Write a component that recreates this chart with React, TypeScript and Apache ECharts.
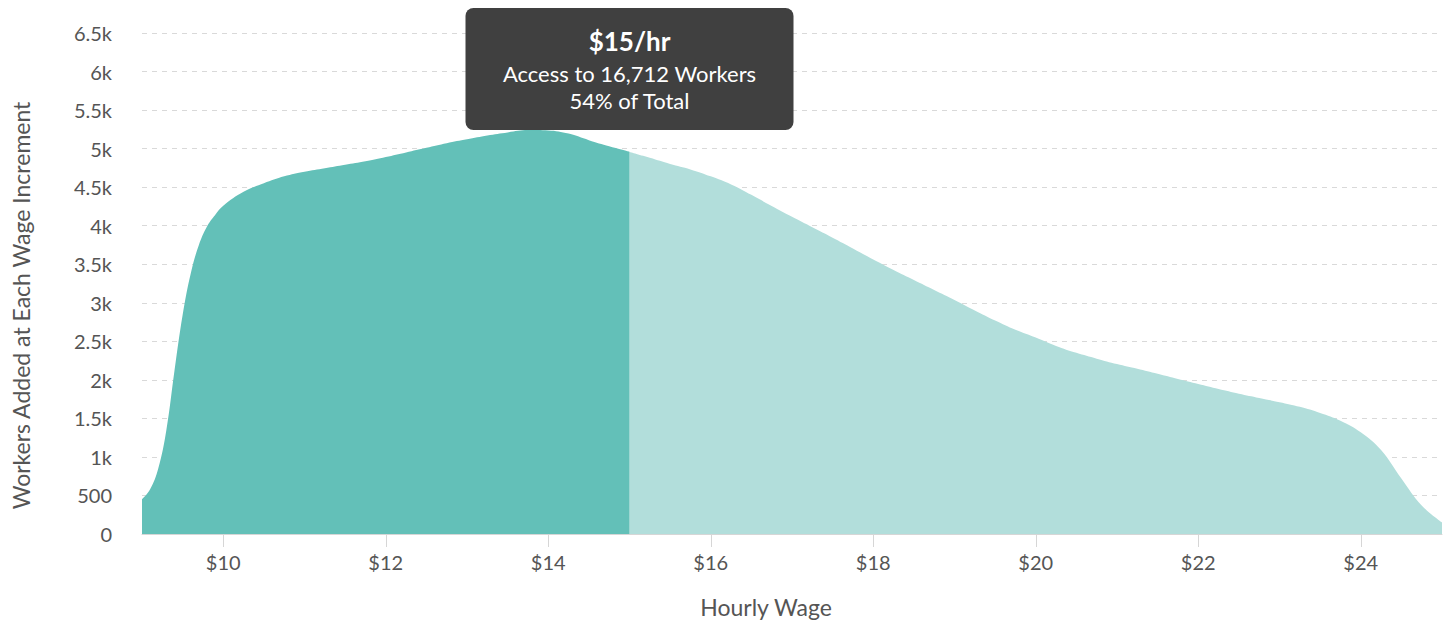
import React, { useEffect, useRef } from "react";
import * as echarts from "echarts";

// Hourly wage (USD) and workers added at each wage increment
const wagesLow = [9.0, 9.1, 9.2, 9.3, 9.4, 9.5, 9.6, 9.7, 9.8, 9.9, 10.0, 10.25, 10.5, 10.75, 11.0, 11.25, 11.5, 11.75, 12.0, 12.25, 12.5, 12.75, 13.0, 13.25, 13.5, 13.75, 14.0, 14.25, 14.5, 14.75, 15.0];
const workersLow = [450, 580, 850, 1350, 2120, 2840, 3380, 3750, 3990, 4140, 4260, 4440, 4550, 4640, 4700, 4745, 4790, 4835, 4890, 4950, 5010, 5070, 5120, 5170, 5210, 5240, 5236, 5195, 5110, 5030, 4960];

const wagesHigh = [15.0, 15.25, 15.5, 15.75, 16.0, 16.25, 16.5, 16.75, 17.0, 17.25, 17.5, 17.75, 18.0, 18.25, 18.5, 18.75, 19.0, 19.25, 19.5, 19.75, 20.0, 20.25, 20.5, 20.75, 21.0, 21.25, 21.5, 21.75, 22.0, 22.25, 22.5, 22.75, 23.0, 23.25, 23.5, 23.75, 24.0, 24.25, 24.5, 24.75, 25.0];
const workersHigh = [4955, 4880, 4800, 4730, 4640, 4535, 4400, 4255, 4115, 3980, 3845, 3705, 3561, 3425, 3295, 3165, 3035, 2900, 2770, 2650, 2550, 2440, 2350, 2275, 2205, 2143, 2078, 2010, 1945, 1880, 1820, 1765, 1710, 1650, 1570, 1470, 1320, 1090, 720, 370, 150];

const xTickValues = [10, 12, 14, 16, 18, 20, 22, 24];
const xMin = 9;
const xMax = 25;
const yMax = 6500;
const yInterval = 500;

const highlightWage = 15;
const highlightWorkers = 16712;
const highlightShare = 54;

const FONT = "Lato, 'Open Sans', sans-serif";
const TEXT = "#555555";

export default function App() {
  const ref = useRef<HTMLDivElement>(null);

  useEffect(() => {
    if (!ref.current) return;
    const chart = echarts.init(ref.current, null, { renderer: "svg" });
    const option: any = {
      animation: false,
      textStyle: { fontFamily: FONT },
      grid: { left: 142, right: 7, top: 33, bottom: 88 },
      xAxis: {
        type: "value",
        min: xMin,
        max: xMax,
        name: "Hourly Wage",
        nameLocation: "middle",
        nameGap: 61,
        nameTextStyle: { fontSize: 23, color: TEXT, fontFamily: FONT, padding: [0, 52, 0, 0] },
        axisLine: { show: true, lineStyle: { color: "#d6d6d6", width: 1 } },
        axisTick: { show: true, length: 13, customValues: xTickValues, lineStyle: { color: "#d6d6d6" } },
        axisLabel: {
          customValues: xTickValues,
          margin: 18,
          fontSize: 20,
          color: TEXT,
          fontFamily: FONT,
          formatter: (v: number) => "$" + v,
        },
        splitLine: { show: false },
      },
      yAxis: {
        type: "value",
        min: 0,
        max: yMax,
        interval: yInterval,
        name: "Workers Added at Each Wage Increment",
        nameLocation: "middle",
        nameGap: 110,
        nameTextStyle: { fontSize: 23, color: TEXT, fontFamily: FONT, padding: [0, 44, 0, 0] },
        axisLine: { show: false },
        axisTick: { show: false },
        axisLabel: {
          margin: 30,
          fontSize: 20,
          color: TEXT,
          fontFamily: FONT,
          formatter: (v: number) => (v >= 1000 ? v / 1000 + "k" : String(v)),
        },
        splitLine: { show: true, lineStyle: { color: "#d9d9d9", type: [5, 5], width: 1 } },
      },
      series: [
        {
          type: "line",
          data: wagesLow.map((w, i) => [w, workersLow[i]]),
          smooth: 0.4,
          showSymbol: false,
          lineStyle: { width: 0 },
          areaStyle: { color: "#63c0b8", opacity: 1 },
          itemStyle: { color: "#63c0b8" },
          z: 3,
        },
        {
          type: "line",
          data: wagesHigh.map((w, i) => [w, workersHigh[i]]),
          smooth: 0.4,
          showSymbol: false,
          lineStyle: { width: 0 },
          areaStyle: { color: "#b2dedb", opacity: 1 },
          itemStyle: { color: "#b2dedb" },
          z: 2,
        },
      ],
    };
    chart.setOption(option);

    const cx = chart.convertToPixel({ xAxisIndex: 0 }, highlightWage) as number;
    const boxW = 328;
    const boxH = 122;
    chart.setOption({
      graphic: [
        {
          type: "group",
          x: cx - boxW / 2,
          y: 8,
          z: 100,
          children: [
            {
              type: "rect",
              shape: { x: 0, y: 0, width: boxW, height: boxH, r: 8 },
              style: { fill: "#404040" },
            },
            {
              type: "text",
              x: boxW / 2,
              y: 33,
              style: {
                text: "$" + highlightWage + "/hr",
                fill: "#ffffff",
                font: "bold 26px " + FONT,
                align: "center",
                verticalAlign: "middle",
              },
            },
            {
              type: "text",
              x: boxW / 2,
              y: 65,
              style: {
                text: "Access to " + highlightWorkers.toLocaleString("en-US") + " Workers",
                fill: "#ffffff",
                font: "22px " + FONT,
                align: "center",
                verticalAlign: "middle",
              },
            },
            {
              type: "text",
              x: boxW / 2,
              y: 92,
              style: {
                text: highlightShare + "% of Total",
                fill: "#ffffff",
                font: "22px " + FONT,
                align: "center",
                verticalAlign: "middle",
              },
            },
          ],
        },
      ],
    });

    return () => chart.dispose();
  }, []);

  return (
    <div
      ref={ref}
      style={{ position: "fixed", left: 0, top: 0, width: 1449, height: 623, background: "#ffffff" }}
    />
  );
}
